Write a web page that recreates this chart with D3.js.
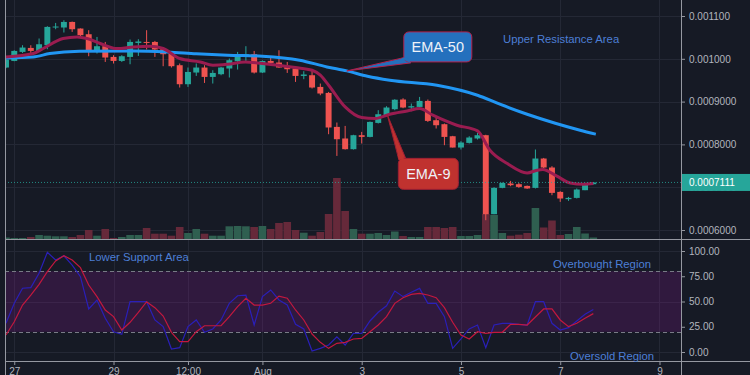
<!DOCTYPE html>
<html>
<head>
<meta charset="utf-8">
<title>EMA-9 / EMA-50 4h chart</title>
<script src="https://d3js.org/d3.v7.min.js"></script>
<style>
  body { margin: 0; background: #161a25; }
  svg { display: block; font-family: 'Liberation Sans', Arial, sans-serif; }
  .axis text { fill: #b2b5be; font-size: 10px; }
  .axis line, .axis path { stroke: #9598a1; }
  .note { fill: #4d7fd6; font-size: 11.3px; }
</style>
</head>
<body>
<script>
// 4h candles, [open, high, low, close], prices in units of 1e-7
var candles = [
  [9796, 9990, 9780, 9983], [9950, 10200, 9943, 10184], [10161, 10317, 10137, 10263], [10254, 10317, 10137, 10184],
  [10184, 10474, 10170, 10340], [10317, 10761, 10224, 10745], [10731, 10838, 10691, 10754], [10731, 10901, 10614, 10861],
  [10861, 10870, 10628, 10691], [10707, 10710, 10511, 10551], [10574, 10668, 10060, 10161], [10161, 10511, 10123, 10294],
  [10294, 10394, 9927, 10030], [10044, 10084, 9890, 9950], [9950, 10084, 9927, 10060], [10044, 10450, 9873, 10394],
  [10371, 10457, 10067, 10404], [10394, 10668, 10217, 10371], [10394, 10418, 10044, 10217], [10224, 10230, 9827, 10107],
  [10123, 10161, 9796, 9827], [9850, 9890, 9329, 9406], [9406, 9796, 9343, 9693], [9679, 9890, 9600, 9796],
  [9796, 9850, 9436, 9577], [9577, 9733, 9422, 9670], [9640, 9810, 9616, 9796], [9773, 10006, 9563, 9967],
  [9943, 10161, 9749, 10067], [10084, 10294, 9950, 10107], [10107, 10184, 9656, 9679], [9679, 9960, 9670, 9950],
  [9950, 10030, 9850, 9904], [9913, 10200, 9790, 9796], [9810, 9927, 9670, 9756], [9773, 9827, 9460, 9600],
  [9600, 9710, 9523, 9633], [9616, 9717, 9306, 9329], [9343, 9422, 9149, 9189], [9203, 9226, 8238, 8395],
  [8409, 8511, 7731, 8121], [8138, 8432, 7880, 7888], [7888, 8225, 7880, 8215], [8215, 8292, 8021, 8175],
  [8175, 8535, 8165, 8525], [8502, 8799, 8488, 8705], [8682, 8892, 8659, 8862], [8822, 9056, 8799, 9044],
  [9049, 9079, 8845, 8862], [8862, 8955, 8775, 8892], [8876, 9109, 8852, 9016], [9016, 9049, 8525, 8549],
  [8565, 8659, 8371, 8448], [8472, 8488, 7981, 8175], [8191, 8200, 7927, 7927], [7927, 8075, 7881, 8044],
  [8035, 8191, 8021, 8161], [8138, 8268, 8114, 8215], [8215, 8225, 6229, 6369], [6369, 7000, 6369, 6984],
  [6984, 7110, 6975, 7100], [7086, 7147, 7023, 7047], [7070, 7100, 6984, 7007], [7030, 7040, 6960, 6970],
  [6984, 7881, 6970, 7670], [7670, 7684, 7437, 7460], [7460, 7491, 6813, 6867], [6890, 6907, 6657, 6736],
  [6720, 6773, 6680, 6750], [6750, 6970, 6736, 6946], [6930, 7100, 6930, 7086], [7070, 7120, 7065, 7111]
];

var volumes = [
  1.5, 1, 1, 2, 4, 3.3, 2.7, 2.7, 2, 4, 9, 3.3, 10, 1, 2, 4, 4, 11, 5.3, 5.3, 3.3, 12, 6, 10,
  5.3, 3.3, 3.3, 12.7, 13, 12.7, 12, 13, 10, 16, 17, 9, 6.3, 3.3, 7, 25, 61, 28, 10, 5.3, 5.3, 6, 4, 7.5,
  3, 2, 2, 12, 12, 11, 12, 3, 3, 4, 25, 24, 6, 3.3, 4.3, 6, 31, 11.5, 18.5, 4, 5, 12, 5.5, 1.5
];

// moving averages: [candle index, price]
var ema9 = [
  [0, 10044], [3.3, 10123], [4.5, 10240], [6.9, 10474], [8.6, 10511], [9.8, 10474], [11.4, 10357], [13.4, 10240],
  [15.4, 10277], [17.4, 10294], [19, 10240], [21, 10006], [23.5, 9927], [25, 9850], [26.8, 9873], [28.9, 9927],
  [31, 9890], [32.9, 9850], [35, 9796], [37, 9733], [38, 9616], [39, 9383], [41, 8876], [43, 8628], [44.6, 8605],
  [46.4, 8705], [48.5, 8782], [50, 8838], [51.6, 8682], [54.5, 8448], [57, 8315], [58.5, 7864], [60.6, 7554],
  [63, 7334], [64.2, 7397], [64.9, 7413], [66.6, 7257], [68.2, 7100], [69.8, 7070], [71, 7086]
];
var ema50 = [
  [0, 10020], [3.3, 10044], [5.3, 10123], [8.9, 10177], [15.4, 10184], [19.5, 10161], [23, 10120], [26.8, 10084],
  [31, 10060], [35.5, 9967], [38.8, 9810], [41.2, 9717], [43.7, 9593], [46.4, 9500], [52.1, 9383], [57, 9149],
  [59.7, 8939], [63, 8705], [66.4, 8495], [69.4, 8332], [71.3, 8238]
];

// oscillator pane, one value per candle
var oscBlue = [
  28.4, 48.2, 63.1, 63.7, 77.9, 98.7, 91.1, 95.3, 86.1, 74.6, 42.6, 51.5, 33.4, 20.1, 17.5, 49.8, 49.8, 49.8,
  31.7, 25.1, 3, 4.3, 25.1, 31.7, 19.5, 22.8, 31.7, 48.2, 55.7, 56.4, 26.7, 54.8, 61.4, 51.5, 46.5, 27.4,
  22.8, 1, 3.6, 6.9, 15.1, 6.9, 18.5, 18.5, 30.7, 39.3, 45.8, 60.4, 54.8, 59.1, 63, 48.2, 48.2, 35,
  3.6, 12.9, 22.8, 26.7, 4.3, 26.7, 28.4, 28.4, 27.4, 26.7, 49.8, 49.8, 28.4, 21.8, 24.1, 30.7, 37.3, 42
];
var oscRed = [
  16.8, 30, 46.5, 56.4, 67, 79.5, 90.1, 95.3, 91.1, 83.5, 66.3, 54.8, 41.6, 35, 21.8, 29.4, 39.3, 49.8,
  43.9, 35.6, 19.5, 10.2, 10.2, 20.1, 26, 26, 26, 35, 44.9, 53.2, 46.5, 46.5, 48.2, 55.4, 53.2, 41.6,
  31.7, 17.8, 9.6, 3.6, 8.6, 9.6, 12.9, 13.5, 20.1, 26.7, 35, 48.2, 53.8, 57.1, 58.1, 56.4, 53.8, 43.9,
  29.4, 16.8, 12.9, 20.1, 18.5, 19.5, 19.5, 27.4, 27.4, 26.7, 34.7, 42.6, 42.6, 31.7, 25.1, 28.4, 33.4, 38
];

var priceTicks = [6000, 7000, 8000, 9000, 10000, 11000];
var priceTickLabels = ["0.0006000", "0.0007000", "0.0008000", "0.0009000", "0.001000", "0.001100"];
var lastPrice = 7111, lastPriceLabel = "0.0007111";
var oscTicks = [0, 25, 50, 75, 100];
var oscTickLabels = ["0.00", "25.00", "50.00", "75.00", "100.00"];
var timeTicks = [Date.UTC(2021, 6, 27), Date.UTC(2021, 6, 29), Date.UTC(2021, 6, 30, 12), Date.UTC(2021, 7, 1),
                 Date.UTC(2021, 7, 3), Date.UTC(2021, 7, 5), Date.UTC(2021, 7, 7), Date.UTC(2021, 7, 9)];
var timeTickLabels = ["27", "29", "12:00", "Aug", "3", "5", "7", "9"];

var H4 = 4 * 3600 * 1000, start = Date.UTC(2021, 6, 26, 20);
function tAt(i) { return new Date(start + i * H4); }

var W = 750, H = 375, left = 5, right = 681, priceBottom = 239, oscBottom = 361;

var x = d3.scaleUtc().domain([tAt(-0.12), tAt(81.6)]).range([left, right]);
var y = d3.scaleLinear().domain([6000, 11000]).range([230, 16]);
var yVol = d3.scaleLinear().domain([0, 100]).range([priceBottom, priceBottom - 100]);
var yOsc = d3.scaleLinear().domain([0, 100]).range([352, 251]);

var svg = d3.select("body").append("svg").attr("width", W).attr("height", H);
svg.append("rect").attr("width", W).attr("height", H).attr("fill", "#161a25");

var defs = svg.append("defs");
defs.append("clipPath").attr("id", "clipPrice").append("rect")
    .attr("x", left).attr("y", 0).attr("width", right - left).attr("height", priceBottom);
defs.append("clipPath").attr("id", "clipOsc").append("rect")
    .attr("x", left).attr("y", priceBottom).attr("width", right - left).attr("height", oscBottom - priceBottom);

// grid
var grid = svg.append("g").attr("stroke", "#242835").attr("stroke-width", 1);
grid.selectAll(".vg").data(timeTicks).enter().append("line")
    .attr("x1", function(d) { return Math.round(x(d)) + 0.5; })
    .attr("x2", function(d) { return Math.round(x(d)) + 0.5; })
    .attr("y1", 0).attr("y2", oscBottom);
grid.selectAll(".hg").data(priceTicks).enter().append("line")
    .attr("x1", left).attr("x2", right)
    .attr("y1", function(d) { return Math.round(y(d)) + 0.5; })
    .attr("y2", function(d) { return Math.round(y(d)) + 0.5; });
grid.selectAll(".og").data([0, 50, 100]).enter().append("line")
    .attr("x1", left).attr("x2", right)
    .attr("y1", function(d) { return Math.round(yOsc(d)) + 0.5; })
    .attr("y2", function(d) { return Math.round(yOsc(d)) + 0.5; });

// oscillator band
var osc = svg.append("g").attr("clip-path", "url(#clipOsc)");
osc.append("rect").attr("x", left).attr("width", right - left)
    .attr("y", yOsc(80)).attr("height", yOsc(20) - yOsc(80))
    .attr("fill", "rgba(128,22,140,0.25)");
osc.selectAll(".band").data([80, 20]).enter().append("line")
    .attr("x1", left).attr("x2", right)
    .attr("y1", function(d) { return Math.round(yOsc(d)) + 0.5; })
    .attr("y2", function(d) { return Math.round(yOsc(d)) + 0.5; })
    .attr("stroke", "#787b86").attr("stroke-dasharray", "4,3");

var oscLine = d3.line()
    .x(function(d, i) { return x(tAt(i)); })
    .y(function(d) { return yOsc(d); });
osc.append("path").datum(oscBlue).attr("d", oscLine)
    .attr("fill", "none").attr("stroke", "#2a1fb8").attr("stroke-width", 1.2);
osc.append("path").datum(oscRed).attr("d", oscLine)
    .attr("fill", "none").attr("stroke", "#c2183f").attr("stroke-width", 1.2);

// price pane
var price = svg.append("g").attr("clip-path", "url(#clipPrice)");
var step = x(tAt(1)) - x(tAt(0));

function isUp(c) { return c[3] >= c[0]; }

price.selectAll(".vol").data(candles).enter().append("rect")
    .attr("x", function(d, i) { return x(tAt(i)) - step * 0.46; })
    .attr("width", step * 0.92)
    .attr("y", function(d, i) { return yVol(volumes[i]); })
    .attr("height", function(d, i) { return yVol(0) - yVol(volumes[i]); })
    .attr("fill", function(d) { return isUp(d) ? "#2f5f50" : "#66293a"; });

var candle = price.selectAll(".candle").data(candles).enter().append("g");
candle.append("line")
    .attr("x1", function(d, i) { return x(tAt(i)); })
    .attr("x2", function(d, i) { return x(tAt(i)); })
    .attr("y1", function(d) { return y(d[1]); })
    .attr("y2", function(d) { return y(d[2]); })
    .attr("stroke", function(d) { return isUp(d) ? "#26a69a" : "#ef5350"; })
    .attr("stroke-width", 1);
candle.append("rect")
    .attr("x", function(d, i) { return x(tAt(i)) - step * 0.36; })
    .attr("width", step * 0.72)
    .attr("y", function(d) { return y(Math.max(d[0], d[3])); })
    .attr("height", function(d) { return Math.max(1, Math.abs(y(d[0]) - y(d[3]))); })
    .attr("fill", function(d) { return isUp(d) ? "#26a69a" : "#ef5350"; });

var emaLine = d3.line()
    .x(function(d) { return x(tAt(d[0])); })
    .y(function(d) { return y(d[1]); })
    .curve(d3.curveMonotoneX);
price.append("path").datum(ema50).attr("d", emaLine)
    .attr("fill", "none").attr("stroke", "#2196f3").attr("stroke-width", 3);
price.append("path").datum(ema9).attr("d", emaLine)
    .attr("fill", "none").attr("stroke", "#9a1c50").attr("stroke-width", 3);

price.append("line")
    .attr("x1", left).attr("x2", right)
    .attr("y1", y(lastPrice)).attr("y2", y(lastPrice))
    .attr("stroke", "#26a69a").attr("stroke-dasharray", "1,2").attr("opacity", 0.8);

// axes
var priceAxis = d3.axisRight(y).tickValues(priceTicks).tickSize(4).tickPadding(4)
    .tickFormat(function(d, i) { return priceTickLabels[i]; });
svg.append("g").attr("class", "axis").attr("transform", "translate(" + right + ",0)")
    .call(priceAxis).call(function(g) { g.select(".domain").remove(); });

var oscAxis = d3.axisRight(yOsc).tickValues(oscTicks).tickSize(4).tickPadding(4)
    .tickFormat(function(d, i) { return oscTickLabels[i]; });
svg.append("g").attr("class", "axis").attr("transform", "translate(" + right + ",0)")
    .call(oscAxis).call(function(g) { g.select(".domain").remove(); });

var timeAxis = d3.axisBottom(x).tickValues(timeTicks.map(function(t) { return new Date(t); }))
    .tickSize(4).tickPadding(3)
    .tickFormat(function(d, i) { return timeTickLabels[i]; });
svg.append("g").attr("class", "axis").attr("transform", "translate(0," + oscBottom + ")")
    .call(timeAxis).call(function(g) { g.select(".domain").remove(); });

// pane borders
var border = svg.append("g").attr("stroke", "#9598a1").attr("stroke-width", 1);
border.append("line").attr("x1", left + 0.5).attr("x2", left + 0.5).attr("y1", 0).attr("y2", H);
border.append("line").attr("x1", right + 0.5).attr("x2", right + 0.5).attr("y1", 0).attr("y2", H);
border.append("line").attr("x1", left).attr("x2", W).attr("y1", priceBottom + 0.5).attr("y2", priceBottom + 0.5);
border.append("line").attr("x1", left).attr("x2", W).attr("y1", oscBottom + 0.5).attr("y2", oscBottom + 0.5);

// last price tag
var ly = y(lastPrice);
svg.append("rect").attr("x", right + 1).attr("y", ly - 8.5).attr("width", W - right - 1).attr("height", 17)
    .attr("fill", "#26a69a");
svg.append("text").attr("x", right + 8).attr("y", ly + 3.6).attr("fill", "#ffffff")
    .attr("font-size", "10px").text(lastPriceLabel);

// callouts: tip anchored on the moving average, box offset in pixels
function callout(tipIdx, tipPrice, dx, dy, w, h, base, label, fill, edge) {
  var tx = x(tAt(tipIdx)), ty = y(tipPrice);
  var bx = tx + dx, by = ty + dy;
  var g = svg.append("g");
  g.append("path")
    .attr("d", "M" + tx + "," + ty + "L" + base[0] + "," + base[1] + "L" + base[2] + "," + base[3] + "Z")
    .attr("fill", fill).attr("stroke", edge).attr("stroke-width", 1);
  g.append("rect").attr("x", bx).attr("y", by).attr("width", w).attr("height", h).attr("rx", 5)
    .attr("fill", fill).attr("stroke", edge).attr("stroke-width", 1);
  // cover the wedge join
  g.append("path")
    .attr("d", "M" + (tx + (base[0] - tx) * 0.9) + "," + (ty + (base[1] - ty) * 0.9) +
               "L" + base[0] + "," + base[1] + "L" + base[2] + "," + base[3] + "Z")
    .attr("fill", fill);
  g.append("text").attr("x", bx + w / 2).attr("y", by + h / 2 + 5).attr("text-anchor", "middle")
    .attr("fill", "#eef2f8").attr("font-size", "14.5px").text(label);
}
var t50x = x(tAt(41.2)), t50y = y(9717);
callout(41.2, 9717, 57, -39, 68, 30, [t50x + 60, t50y - 14, t50x + 64, t50y - 8], "EMA-50", "#2470bd", "#b3204a");
var t9x = x(tAt(46.1)), t9y = y(8690);
callout(46.1, 8690, 11, 43.5, 60, 31, [t9x + 11.5, t9y + 45, t9x + 19, t9y + 45], "EMA-9", "#c0322f", "#9e1f34");

// text notes
var notes = [
  { text: "Upper Resistance Area", x: 503, y: 43 },
  { text: "Lower Support Area", x: 89, y: 261 },
  { text: "Overbought Region", x: 553, y: 268 },
  { text: "Oversold Region", x: 570, y: 359.5 }
];
svg.selectAll(".note").data(notes).enter().append("text")
    .attr("class", "note")
    .attr("x", function(d) { return d.x; })
    .attr("y", function(d) { return d.y; })
    .text(function(d) { return d.text; });
</script>
</body>
</html>
